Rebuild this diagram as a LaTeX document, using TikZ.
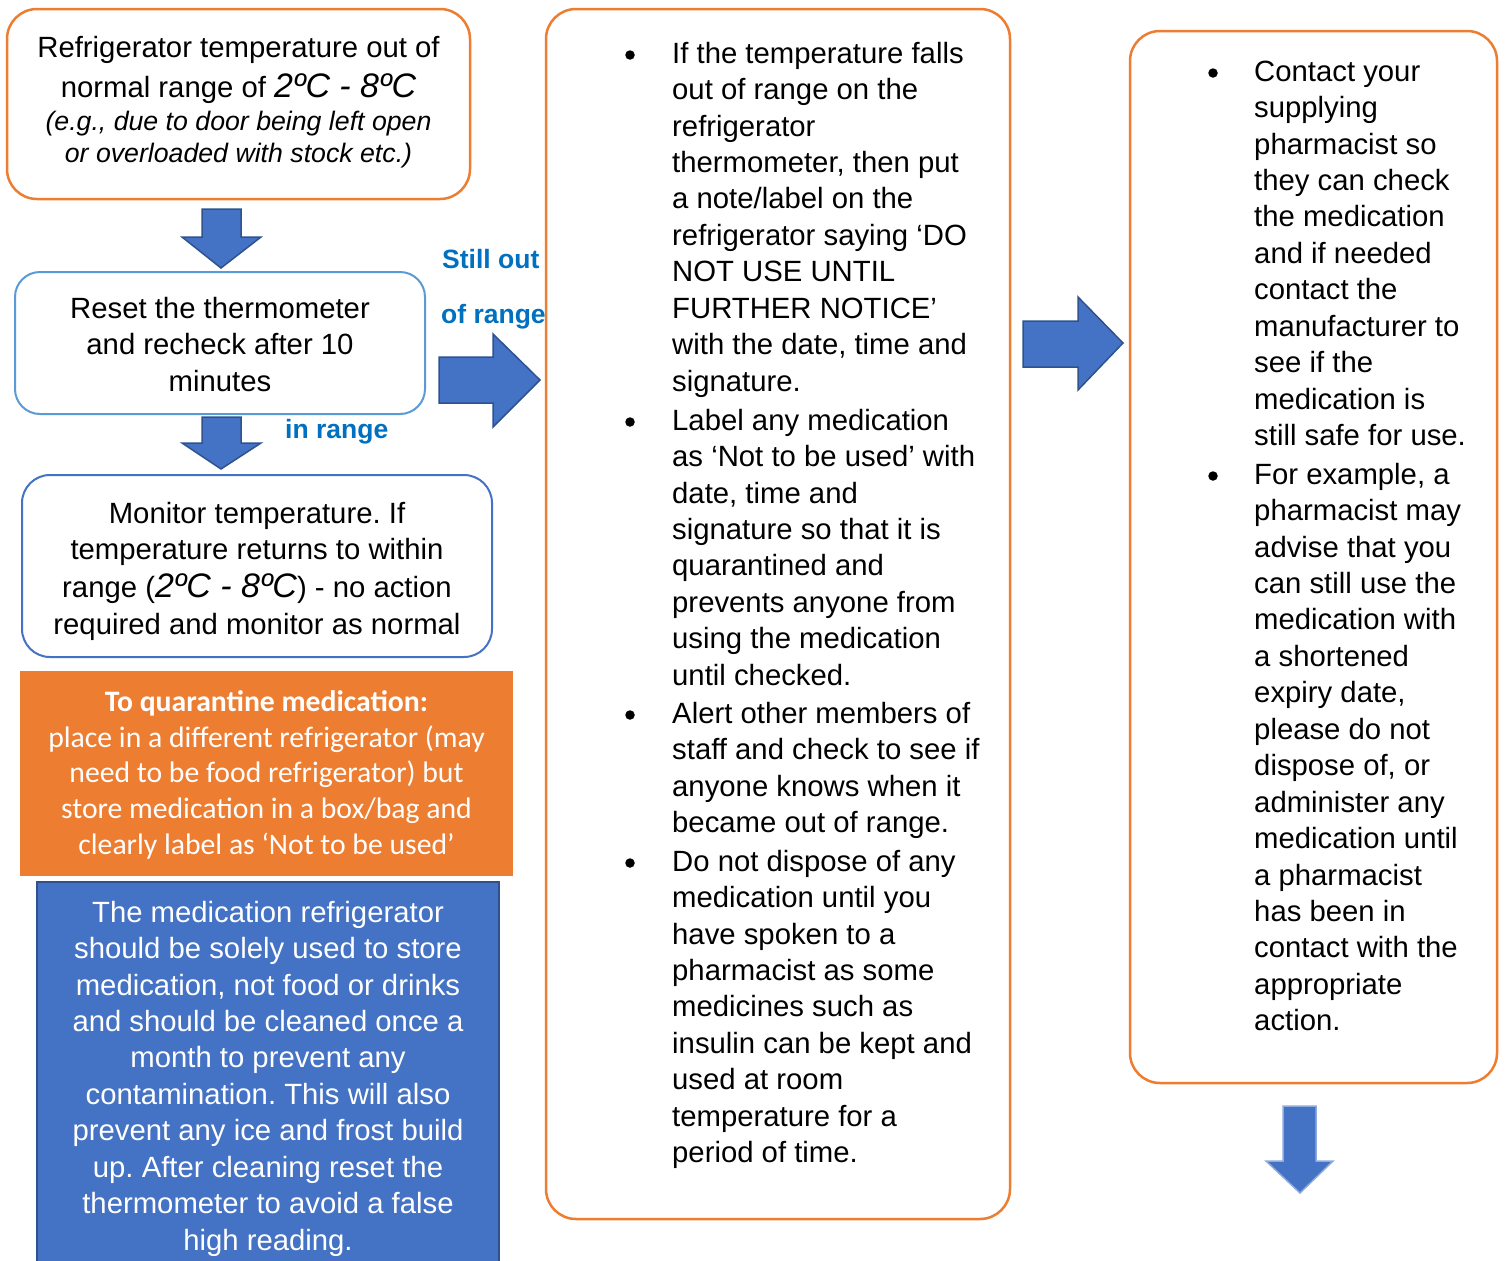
\documentclass[tikz,border=0pt]{standalone}
\usepackage{fontspec}
\setmainfont{Liberation Sans}
\newfontfamily\calibrifont{Carlito}
\definecolor{orangeC}{HTML}{ED7D31}
\definecolor{blueF}{HTML}{4472C4}
\definecolor{blueS}{HTML}{2F528F}
\definecolor{lightS}{HTML}{5B9BD5}
\definecolor{labelB}{HTML}{0070C0}
\definecolor{arrowL}{HTML}{8FAADC}
\begin{document}
\frenchspacing
\begin{tikzpicture}[x=1pt,y=-1pt,
  obox/.style={draw=orangeC, line width=2.5pt, rounded corners=30pt},
  bbox/.style={draw=lightS, line width=2pt, rounded corners=25pt},
  dbox/.style={draw=blueF, line width=2pt, rounded corners=28pt},
  blockarrow/.style={fill=blueF, draw=blueS, line width=1.5pt, line join=miter},
  body/.style={font=\fontsize{29.3}{36.44}\selectfont, inner sep=0pt},
  para/.style={body, anchor=north west, align=left},
  cpara/.style={body, anchor=north, align=center},
  line/.style={body, anchor=base},
  lbl/.style={font=\fontsize{26.5}{30}\selectfont\bfseries, text=labelB, inner sep=0pt, anchor=base west},
  bul/.style={circle, fill=black, inner sep=0pt, minimum size=9.5pt}
]
\useasboundingbox (0,0) rectangle (1510,1261);
\fill[white] (0,0) rectangle (1510,1261);

% ---------- boxes ----------
\draw[obox] (7,9) rectangle (470,199);
\draw[bbox] (15,272) rectangle (425,414);
\draw[dbox] (22,475) rectangle (492,657);
\fill[orangeC] (20,671) rectangle (513,876);
\draw[fill=blueF, draw=blueS, line width=2pt] (37,882) rectangle (499,1268);
\draw[obox] (546,9) rectangle (1010,1219);
\draw[obox] (1130,31) rectangle (1497,1083);

% ---------- top-left box text ----------
\node[line] (t1) at (238.5,57) {Refrigerator temperature out of};
\node[line] (t2) at (238.5,97) {normal range of {\itshape\fontsize{34}{38}\selectfont 2ºC - 8ºC}};
\node[line, font=\fontsize{26.7}{30}\selectfont\itshape] (t3) at (238.5,130) {(e.g., due to door being left open};
\node[line, font=\fontsize{26.7}{30}\selectfont\itshape] (t4) at (238.5,162) {or overloaded with stock etc.)};

% ---------- reset box ----------
\node[cpara] (reset) at (220,{318-25.5}) {\strut Reset the thermometer\\and recheck after 10\\minutes};

% ---------- monitor box ----------
\node[line] (m1) at (257,523) {Monitor temperature. If};
\node[line] (m2) at (257,559) {temperature returns to within};
\node[line] (m3) at (257,597) {range ({\itshape\fontsize{34}{38}\selectfont 2ºC - 8ºC}) - no action};
\node[line] (m4) at (257,634) {required and monitor as normal};

% ---------- orange quarantine box ----------
\node[anchor=north, align=center, inner sep=0pt, text=white,
      font=\calibrifont\fontsize{29.7}{35.8}\selectfont] (quar) at (266.5,{711-25.06})
  {\strut\textbf{To quarantine medication:}\\place in a different refrigerator (may\\need to be food refrigerator) but\\store medication in a box/bag and\\clearly label as ‘Not to be used’};

% ---------- blue cleaning box ----------
\node[cpara, text=white] (clean) at (268,{922-25.5})
  {\strut The medication refrigerator\\should be solely used to store\\medication, not food or drinks\\and should be cleaned once a\\month to prevent any\\contamination. This will also\\prevent any ice and frost build\\up. After cleaning reset the\\thermometer to avoid a false\\high reading.};

% ---------- labels ----------
\node[lbl] (still1) at (442,268) {Still out};
\node[lbl] (still2) at (441,323) {of range};
\node[lbl] (inr) at (285,438) {in range};

% ---------- middle box bullets ----------
\node[bul] (b1) at (630,55) {};
\node[para] (p1) at (672,{63-25.5}) {\strut If the temperature falls\\out of range on the\\refrigerator\\thermometer, then put\\a note/label on the\\refrigerator saying ‘DO\\NOT USE UNTIL\\FURTHER NOTICE’\\with the date, time and\\signature.};
\node[bul] (b2) at (630,422) {};
\node[para] (p2) at (672,{430-25.5}) {\strut Label any medication\\as ‘Not to be used’ with\\date, time and\\signature so that it is\\quarantined and\\prevents anyone from\\using the medication\\until checked.};
\node[bul] (b3) at (630,715) {};
\node[para] (p3) at (672,{723-25.5}) {\strut Alert other members of\\staff and check to see if\\anyone knows when it\\became out of range.};
\node[bul] (b4) at (630,863) {};
\node[para] (p4) at (672,{871-25.5}) {\strut Do not dispose of any\\medication until you\\have spoken to a\\pharmacist as some\\medicines such as\\insulin can be kept and\\used at room\\temperature for a\\period of time.};

% ---------- right box bullets ----------
\node[bul] (r1b) at (1213,73) {};
\node[para] (r1) at (1254,{81-25.5}) {\strut Contact your\\supplying\\pharmacist so\\they can check\\the medication\\and if needed\\contact the\\manufacturer to\\see if the\\medication is\\still safe for use.};
\node[bul] (r2b) at (1213,476) {};
\node[para] (r2) at (1254,{484-25.5}) {\strut For example, a\\pharmacist may\\advise that you\\can still use the\\medication with\\a shortened\\expiry date,\\please do not\\dispose of, or\\administer any\\medication until\\a pharmacist\\has been in\\contact with the\\appropriate\\action.};

% ---------- block arrows ----------
\draw[blockarrow] (202,209) -- (241,209) -- (241,237) -- (261,237) -- (221,268) -- (182,237) -- (202,237) -- cycle;
\draw[blockarrow] (202,417) -- (241,417) -- (241,443) -- (261,443) -- (221,469) -- (182,443) -- (202,443) -- cycle;
\draw[blockarrow] (439,357) -- (493,357) -- (493,334) -- (540,380) -- (493,427) -- (493,403) -- (439,403) -- cycle;
\draw[blockarrow] (1023,321) -- (1078,321) -- (1078,297) -- (1123,343) -- (1078,390) -- (1078,367) -- (1023,367) -- cycle;
\draw[blockarrow, draw=arrowL] (1283,1106) -- (1316,1106) -- (1316,1161) -- (1333,1161) -- (1300,1193) -- (1266,1161) -- (1283,1161) -- cycle;
\end{tikzpicture}
\end{document}
